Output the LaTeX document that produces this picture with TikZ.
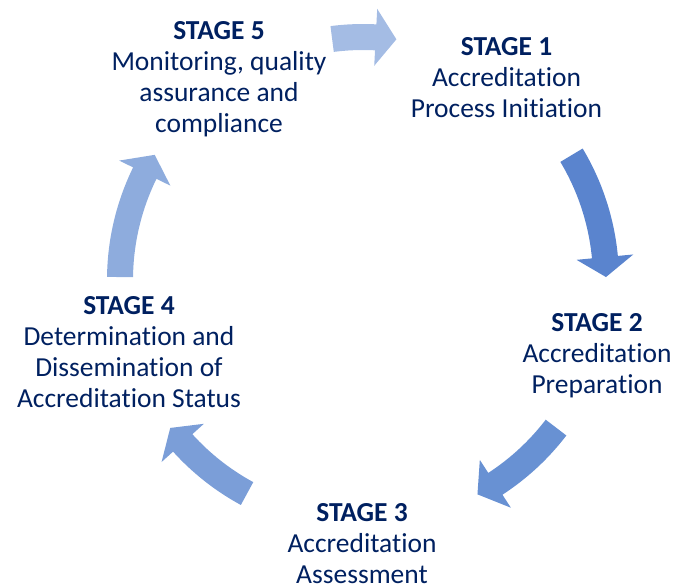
\documentclass[tikz,border=0pt]{standalone}
\usepackage{fontspec}
\setmainfont{Carlito}[Ligatures=NoCommon]
\usepackage{tikz}
\usetikzlibrary{calc,positioning}
\definecolor{stagetext}{HTML}{002060}
\definecolor{cycleA}{HTML}{A4BCE4}
\definecolor{cycleB}{HTML}{5A84CE}
\definecolor{cycleC}{HTML}{6891D3}
\definecolor{cycleD}{HTML}{7B9ED8}
\definecolor{cycleE}{HTML}{8EACDD}

\begin{document}
\begin{tikzpicture}[x=0.75pt,y=-0.75pt,
    stage/.style={anchor=north,align=center,inner sep=0pt,text=stagetext,
      font=\fontsize{20.6}{23.25}\selectfont}]
  \def\ring{243}
  \def\body{13}
  \def\head{28.5}

  \useasboundingbox (0,0) rectangle (678,587);
  \coordinate (hub) at (363,280);

  \foreach \tail/\neck/\tip/\shade in {-97.3/-87/-82.1/cycleA, -30.9/-5.4/-0.7/cycleB,
      37.4/57/61.9/cycleC, 118.5/137.9/142.5/cycleD, 180.7/206.1/211/cycleE} {
    \pgfmathsetmacro\rin{\ring-\body}
    \pgfmathsetmacro\rout{\ring+\body}
    \pgfmathsetmacro\hin{\ring-\head}
    \pgfmathsetmacro\hout{\ring+\head}
    \fill[\shade, shift={(hub)}] (\tail:\rin) arc[start angle=\tail, end angle=\neck, radius=\rin]
      -- (\neck:\hin) -- (\tip:\ring) -- (\neck:\hout) -- (\neck:\rout)
      arc[start angle=\neck, end angle=\tail, radius=\rout] -- cycle;
  }

  \node[stage] (s1) at (506.5,37.5) {\textbf{STAGE 1}\\Accreditation\\Process Initiation};
  \node[stage] (s2) at (597,313.5) {\textbf{STAGE 2}\\Accreditation\\Preparation};
  \node[stage] (s3) at (362,503) {\textbf{STAGE 3}\\Accreditation\\Assessment};
  \node[stage] (s4) at (129,296.5) {\textbf{STAGE 4}\\Determination and\\Dissemination of\\Accreditation Status};
  \node[stage] (s5) at (219,21.5) {\textbf{STAGE 5}\\Monitoring, quality\\assurance and\\compliance};
\end{tikzpicture}
\end{document}
